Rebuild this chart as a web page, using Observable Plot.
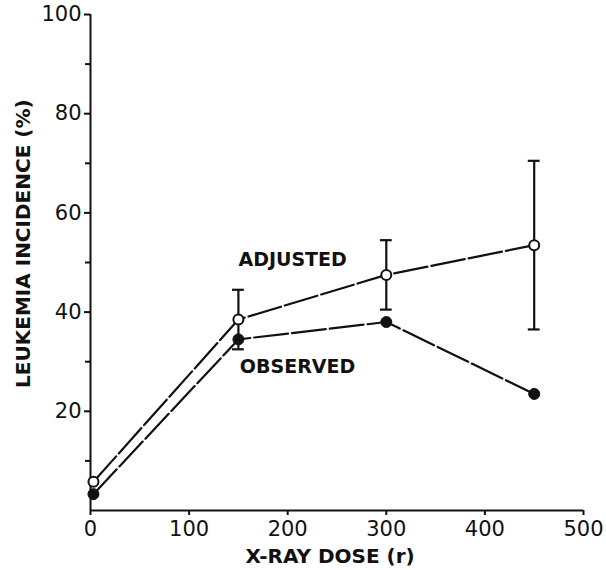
<!DOCTYPE html>
<html><head><meta charset="utf-8">
<script src="https://cdn.jsdelivr.net/npm/d3@7"></script>
<script src="https://cdn.jsdelivr.net/npm/@observablehq/plot@0.6"></script>
<style>body{margin:0;background:#fff} #chart svg{display:block}</style>
</head><body><div id="chart"></div>
<script>
const doses = [3, 150, 300, 450];
const adjusted = [5.8, 38.5, 47.5, 53.5];
const observed = [3.3, 34.5, 38, 23.5];
const adjustedErr = [0, 6, 7, 17];
const xTicks = [0, 100, 200, 300, 400, 500];
const yTicks = [20, 40, 60, 80, 100];
const yMinorTicks = [10, 30, 50, 70, 90];
const seriesLabels = ["ADJUSTED", "OBSERVED"];
const labelDoses = [205, 210];
const labelValues = [50.6, 29];
const xTitle = "X-RAY DOSE (r)";
const yTitle = "LEUKEMIA INCIDENCE (%)";

const adj = doses.map((d, i) => ({dose: d, v: adjusted[i], lo: adjusted[i] - adjustedErr[i], hi: adjusted[i] + adjustedErr[i], e: adjustedErr[i]}));
const obs = doses.map((d, i) => ({dose: d, v: observed[i]}));
const bars = adj.filter(d => d.e > 0);
const capHalf = 6;
const labels = seriesLabels.map((t, i) => ({t, x: labelDoses[i], y: labelValues[i]}));

const dash = "34,4";
const chart = Plot.plot({
  width: 606, height: 570,
  marginLeft: 90, marginRight: 23, marginTop: 14, marginBottom: 60,
  x: {domain: [0, 500]},
  y: {domain: [0, 100]},
  style: {fontFamily: "DejaVu Sans", fontSize: "21px", color: "#111", background: "#fff"},
  marks: [
    Plot.ruleX([0], {stroke: "#111", strokeWidth: 2}),
    Plot.ruleY([0], {stroke: "#111", strokeWidth: 2}),
    Plot.axisX({ticks: xTicks, tickSize: 5, tickPadding: 6, tickFormat: d => String(d), label: null, strokeWidth: 2}),
    Plot.axisY({ticks: yTicks, tickSize: 6, tickPadding: 3, tickFormat: d => String(d), label: null, strokeWidth: 2}),
    Plot.axisY({ticks: yMinorTicks, tickSize: 5, tickFormat: () => "", label: null, strokeWidth: 2}),
    Plot.text([yTitle], {frameAnchor: "left", textAnchor: "middle", y: () => 53.8, rotate: -90, dx: -67, fontSize: 20, fontWeight: "bold", text: d => d}),
    Plot.text([xTitle], {frameAnchor: "bottom", x: () => 243, dy: 46, fontSize: 20, fontWeight: "bold", text: d => d, lineAnchor: "middle"}),
    Plot.line(adj, {x: "dose", y: "v", stroke: "#111", strokeWidth: 2.2, strokeDasharray: dash}),
    Plot.line(obs, {x: "dose", y: "v", stroke: "#111", strokeWidth: 2.2, strokeDasharray: dash}),
    Plot.ruleX(bars, {x: "dose", y1: "lo", y2: "hi", stroke: "#111", strokeWidth: 2.2}),
    Plot.ruleY(bars, {y: "hi", x1: d => d.dose - capHalf, x2: d => d.dose + capHalf, stroke: "#111", strokeWidth: 2.2}),
    Plot.ruleY(bars, {y: "lo", x1: d => d.dose - capHalf, x2: d => d.dose + capHalf, stroke: "#111", strokeWidth: 2.2}),
    Plot.dot(obs, {x: "dose", y: "v", r: 5.5, fill: "#111", stroke: "#111", strokeWidth: 1}),
    Plot.dot(adj, {x: "dose", y: "v", r: 5, fill: "#fff", stroke: "#111", strokeWidth: 2}),
    Plot.text(labels, {x: "x", y: "y", text: "t", fontSize: 19, fontWeight: "bold"})
  ]
});
document.getElementById("chart").append(chart);
</script>
</body></html>
